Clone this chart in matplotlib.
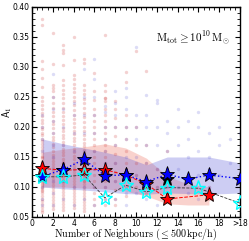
"""A1 versus number of neighbours, M_tot >= 1e10 Msun."""

import matplotlib
matplotlib.use("Agg")
import matplotlib.pyplot as plt
from matplotlib.ticker import MultipleLocator, FixedLocator, FormatStrFormatter

plt.rcParams["mathtext.fontset"] = "cm"
plt.rcParams["font.family"] = "DejaVu Sans"

# individual galaxies, one list per neighbour count
red_dots = {
    1: [0.38, 0.37, 0.31, 0.296, 0.281, 0.266, 0.25, 0.243, 0.236, 0.23, 0.224, 0.218,
        0.212, 0.207, 0.2, 0.196, 0.19, 0.186, 0.18, 0.176, 0.171, 0.166, 0.161, 0.157,
        0.152, 0.148, 0.143, 0.139, 0.134, 0.13, 0.126, 0.121, 0.117, 0.112, 0.108,
        0.103, 0.099, 0.094, 0.09, 0.085, 0.08, 0.076, 0.071, 0.066, 0.062, 0.058,
        0.13, 0.12, 0.115, 0.14, 0.11, 0.105, 0.125, 0.15, 0.1, 0.095],
    2: [0.357, 0.305, 0.27, 0.265, 0.26, 0.25, 0.24, 0.232, 0.225, 0.218, 0.21, 0.205,
        0.198, 0.19, 0.184, 0.178, 0.172, 0.166, 0.16, 0.154, 0.149, 0.143, 0.138,
        0.133, 0.128, 0.123, 0.118, 0.113, 0.108, 0.103, 0.098, 0.093, 0.088, 0.083,
        0.078, 0.073, 0.068, 0.063],
    3: [0.337, 0.329, 0.323, 0.304, 0.278, 0.27, 0.262, 0.255, 0.248, 0.24, 0.232, 0.225,
        0.218, 0.212, 0.205, 0.199, 0.193, 0.187, 0.181, 0.175, 0.17, 0.164, 0.158,
        0.153, 0.147, 0.142, 0.137, 0.132, 0.127, 0.122, 0.117, 0.112, 0.107, 0.102,
        0.097, 0.092, 0.087, 0.082, 0.077, 0.072, 0.067, 0.062, 0.13, 0.12, 0.14, 0.11],
    4: [0.35, 0.312, 0.286, 0.28, 0.272, 0.265, 0.258, 0.25, 0.243, 0.236, 0.228, 0.22,
        0.213, 0.206, 0.2, 0.194, 0.188, 0.182, 0.176, 0.17, 0.164, 0.158, 0.152, 0.146,
        0.14, 0.135, 0.13, 0.125, 0.12, 0.115, 0.11, 0.105, 0.1, 0.095, 0.09, 0.085,
        0.08, 0.075, 0.07, 0.065],
    5: [0.314, 0.306, 0.27, 0.262, 0.255, 0.247, 0.24, 0.232, 0.224, 0.216, 0.208, 0.2,
        0.193, 0.186, 0.18, 0.174, 0.168, 0.162, 0.156, 0.15, 0.145, 0.14, 0.135, 0.13,
        0.125, 0.12, 0.115, 0.11, 0.105, 0.1, 0.095, 0.09, 0.085, 0.08, 0.075, 0.07,
        0.065, 0.06, 0.13, 0.12, 0.11],
    6: [0.29, 0.26, 0.245, 0.23, 0.22, 0.21, 0.2, 0.19, 0.18, 0.17, 0.16, 0.15, 0.14,
        0.13, 0.12, 0.11, 0.1, 0.09, 0.08, 0.07],
    7: [0.353, 0.27, 0.26, 0.248, 0.248, 0.243, 0.23, 0.22, 0.21, 0.2, 0.19, 0.18, 0.17,
        0.16, 0.15, 0.14, 0.13, 0.12, 0.11, 0.1, 0.09, 0.08, 0.07],
    8: [0.243, 0.23, 0.215, 0.2, 0.185, 0.17, 0.155, 0.14, 0.125, 0.11, 0.095, 0.08, 0.07],
    9: [0.292, 0.275, 0.22, 0.2, 0.18, 0.16, 0.14, 0.12, 0.1, 0.085],
    10: [0.326, 0.2, 0.17, 0.14, 0.12, 0.1],
    11: [0.294, 0.17, 0.14, 0.11, 0.09],
    12: [0.13, 0.1],
    13: [0.16, 0.09, 0.075],
    15: [0.12],
    17: [0.1, 0.08],
}
blue_dots = {
    1: [0.22, 0.2, 0.18, 0.16, 0.14, 0.12, 0.1, 0.08, 0.07],
    2: [0.288, 0.25, 0.23, 0.21, 0.19, 0.17, 0.15, 0.13, 0.11, 0.09, 0.07],
    3: [0.23, 0.2, 0.17, 0.14, 0.11, 0.08],
    4: [0.24, 0.22, 0.19, 0.16, 0.13, 0.1, 0.07],
    5: [0.296, 0.25, 0.22, 0.19, 0.16, 0.13, 0.1, 0.08],
    6: [0.314, 0.28, 0.25, 0.22, 0.19, 0.16, 0.13, 0.1, 0.07],
    7: [0.235, 0.225, 0.2, 0.18, 0.16, 0.14, 0.12, 0.1, 0.08],
    8: [0.26, 0.24, 0.22, 0.2, 0.17, 0.14, 0.11, 0.08],
    9: [0.265, 0.25, 0.23, 0.2, 0.18, 0.15, 0.12, 0.09, 0.07],
    10: [0.333, 0.22, 0.2, 0.18, 0.15, 0.12, 0.09],
    11: [0.253, 0.22, 0.2, 0.17, 0.14, 0.11, 0.08],
    12: [0.245, 0.24, 0.2, 0.17, 0.13, 0.1, 0.07],
    13: [0.21, 0.19, 0.16, 0.13, 0.1, 0.08],
    14: [0.23, 0.2, 0.17, 0.13, 0.1],
    15: [0.21, 0.18, 0.15, 0.12, 0.09],
    16: [0.225, 0.2, 0.16, 0.12, 0.08],
    17: [0.19, 0.15, 0.13, 0.1],
    18: [0.2, 0.17, 0.12],
    19: [0.18, 0.14],
    20: [0.19, 0.16, 0.12, 0.09],
}

# medians and spread bands
red_x = [1, 3, 5, 7, 9, 11, 13, 17]
red_a1 = [0.131, 0.128, 0.129, 0.129, 0.12, 0.105, 0.08, 0.087]
red_band_x = [1, 3, 5, 7, 9, 11, 13, 15, 17]
red_band_hi = [0.158, 0.163, 0.167, 0.172, 0.165, 0.148, 0.118, 0.105, 0.1]
red_band_lo = [0.1, 0.1, 0.098, 0.097, 0.093, 0.085, 0.072, 0.07, 0.07]

blue_x = [1, 3, 5, 7, 9, 11, 13, 15, 17, 20]
blue_a1 = [0.118, 0.129, 0.146, 0.119, 0.12, 0.109, 0.121, 0.113, 0.12, 0.114]
blue_band_hi = [0.18, 0.172, 0.165, 0.158, 0.15, 0.137, 0.15, 0.15, 0.15, 0.14]
blue_band_lo = [0.1, 0.097, 0.095, 0.092, 0.089, 0.088, 0.09, 0.089, 0.088, 0.09]

cyan_x = [1, 3, 5, 7, 9, 11, 13, 16, 20]
cyan_a1 = [0.117, 0.117, 0.12, 0.082, 0.103, 0.092, 0.099, 0.098, 0.073]

black_x = [13]
black_a1 = [0.114]

x_ticks = [0, 2, 4, 6, 8, 10, 12, 14, 16, 18, 20]
x_labels = ["0", "2", "4", "6", "8", "10", "12", "14", "16", "18", ">18"]


def flatten(dots):
    xs, ys = [], []
    for n, values in dots.items():
        xs += [n] * len(values)
        ys += values
    return xs, ys


fig = plt.figure(figsize=(2.49, 2.41), dpi=100)
ax = fig.add_axes([0.1285, 0.0996, 0.8355, 0.8714])

ax.fill_between(red_band_x, red_band_lo, red_band_hi, color="#f08070", alpha=0.35, lw=0, zorder=1)
ax.fill_between(blue_x, blue_band_lo, blue_band_hi, color="#5a5ad8", alpha=0.3, lw=0, zorder=1)

rx, ry = flatten(red_dots)
bx, by = flatten(blue_dots)
ax.scatter(rx, ry, s=6, color="#cc3030", alpha=0.22, lw=0, zorder=2)
ax.scatter(bx, by, s=6, color="#4040d0", alpha=0.18, lw=0, zorder=2)

ax.plot(red_x, red_a1, ls="--", color="red", lw=0.7, zorder=3)
ax.plot(blue_x, blue_a1, ls=":", color="blue", lw=1.0, zorder=3)
ax.plot(cyan_x, cyan_a1, ls="--", color="#333333", lw=0.6, zorder=3)

ax.plot(red_x, red_a1, ls="none", marker="*", ms=11, mfc="red", mec="black", mew=0.6, zorder=4)
ax.plot(black_x, black_a1, ls="none", marker="*", ms=11, mfc="black", mec="black", mew=0.6, zorder=4)
ax.plot(blue_x, blue_a1, ls="none", marker="*", ms=11, mfc="blue", mec="black", mew=0.6, zorder=5)
ax.plot(cyan_x, cyan_a1, ls="none", marker="*", ms=11, mfc="none", mec="cyan", mew=1.0, zorder=6)

ax.set_xlim(0, 20)
ax.set_ylim(0.05, 0.40)
ax.xaxis.set_major_locator(FixedLocator(x_ticks))
ax.set_xticklabels(x_labels)
ax.xaxis.set_minor_locator(MultipleLocator(0.5))
ax.yaxis.set_major_locator(MultipleLocator(0.05))
ax.yaxis.set_minor_locator(MultipleLocator(0.01))
ax.yaxis.set_major_formatter(FormatStrFormatter("%.2f"))
ax.tick_params(which="both", direction="in", top=True, right=True, labelsize=5.5, pad=1.5)
ax.tick_params(which="major", length=3.5, width=0.8)
ax.tick_params(which="minor", length=2, width=0.6)
for spine in ax.spines.values():
    spine.set_linewidth(1.0)

ax.set_xlabel(r"$\mathrm{Number\ of\ Neighbours}\ (\leq 500\,\mathrm{kpc/h})$", fontsize=7.2)
ax.xaxis.set_label_coords(0.5, -0.048)
ax.set_ylabel(r"$\mathsf{A}_1$", fontsize=7)
ax.yaxis.set_label_coords(-0.085, 0.5)
ax.text(0.95, 0.85, r"$\mathrm{M_{tot}} \geq 10^{10}\,\mathrm{M_{\odot}}$",
        transform=ax.transAxes, ha="right", va="center", fontsize=8)

fig.savefig("out.png", dpi=100)
